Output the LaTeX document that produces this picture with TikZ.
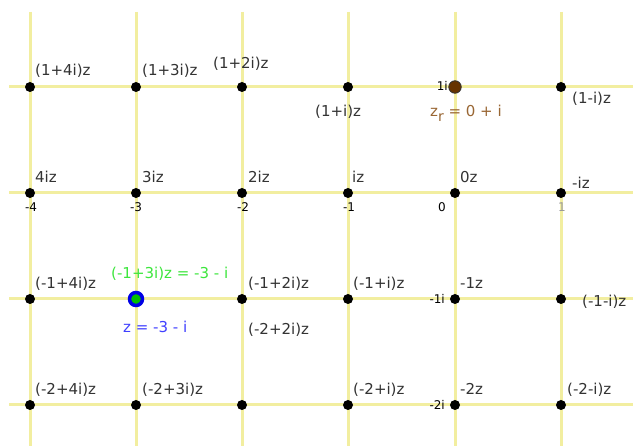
\documentclass[tikz,border=0pt]{standalone}
\usepackage{fontspec}
\setmainfont{DejaVu Sans}
\definecolor{gridyellow}{RGB}{242, 238, 160}
\definecolor{labelgray}{RGB}{51, 51, 51}
\definecolor{zrbrown}{RGB}{153, 102, 51}
\definecolor{zrfill}{RGB}{102, 51, 0}
\definecolor{zblue}{RGB}{64, 64, 255}
\definecolor{zgreen}{RGB}{60, 230, 60}
\usepackage{tikz}
\usetikzlibrary{positioning}

\tikzset{
  gridline/.style={gridyellow, line width=3pt},
  dot/.style={circle, fill=black, inner sep=0pt, minimum size=10pt},
  lbl/.style={anchor=base west, inner sep=0pt, text=labelgray, font=\fontsize{15}{15}\selectfont},
  ticklbl/.style={anchor=base, inner sep=0pt, font=\fontsize{12}{12}\selectfont},
}

\begin{document}
\begin{tikzpicture}[x=1pt, y=-1pt]
  \useasboundingbox[fill=white] (0,0) rectangle (633,446);

  % grid
  \foreach \x in {30,136,242,348,455,561}
    \draw[gridline] (\x,12) -- (\x,446);
  \foreach \y in {87,193,299,405}
    \draw[gridline] (9,\y) -- (633,\y);

  % axis ticks
  \node[ticklbl] (tm4) at (31,212) {-4};
  \node[ticklbl] (tm3) at (136,212) {-3};
  \node[ticklbl] (tm2) at (243,212) {-2};
  \node[ticklbl] (tm1) at (349,212) {-1};
  \node[ticklbl] (t0) at (442,212) {0};
  \node[ticklbl, text=black!40] (t1) at (562,212) {1};
  \node[ticklbl, anchor=base east] (ti1) at (448,91) {1i};
  \node[ticklbl, anchor=base east] (tim1) at (445,304) {-1i};
  \node[ticklbl, anchor=base east] (tim2) at (445,410) {-2i};

  % lattice points
  \foreach \x [count=\i] in {30,136,242,348,455,561}
    \foreach \y [count=\j] in {87,193,299,405}
      \node[dot] (p\i\j) at (\x,\y) {};

  % z and z_r
  \node[circle, draw=blue!90!black, line width=3.5pt, fill=green!75!black, inner sep=0pt, minimum size=13pt] (z) at (136,299) {};
  \node[circle, draw=black!80, line width=0.8pt, fill=zrfill, inner sep=0pt, minimum size=12.5pt] (zr) at (455,87) {};

  % labels, first row
  \node[lbl] (l14) at (35,76) {(1+4i)z};
  \node[lbl] (l13) at (142,76) {(1+3i)z};
  \node[lbl] (l12) at (213,69) {(1+2i)z};
  \node[lbl] (l11) at (315,117) {(1+i)z};
  \node[lbl, text=zrbrown] (lzr) at (430,117) {z\raisebox{-5pt}{\fontsize{14}{14}\selectfont r} = 0 + i};
  \node[lbl] (l1m1) at (572,104) {(1-i)z};

  % second row
  \node[lbl] (l04) at (35,183) {4iz};
  \node[lbl] (l03) at (142,183) {3iz};
  \node[lbl] (l02) at (248,183) {2iz};
  \node[lbl] (l01) at (352,183) {iz};
  \node[lbl] (l00) at (460,183) {0z};
  \node[lbl] (l0m1) at (572,189) {-iz};

  % third row
  \node[lbl] (lm14) at (35,289) {(-1+4i)z};
  \node[lbl, text=zgreen] (lm13) at (111,279) {(-1+3i)z = -3 - i};
  \node[lbl, text=zblue] (lz) at (123,333) {z = -3 - i};
  \node[lbl] (lm12) at (248,289) {(-1+2i)z};
  \node[lbl] (lm11) at (353,289) {(-1+i)z};
  \node[lbl] (lm10) at (460,289) {-1z};
  \node[lbl] (lm1m1) at (582,307) {(-1-i)z};
  \node[lbl] (lm22) at (248,335) {(-2+2i)z};

  % fourth row
  \node[lbl] (lm24) at (35,395) {(-2+4i)z};
  \node[lbl] (lm23) at (142,395) {(-2+3i)z};
  \node[lbl] (lm21) at (353,395) {(-2+i)z};
  \node[lbl] (lm20) at (460,395) {-2z};
  \node[lbl] (lm2m1) at (567,395) {(-2-i)z};
\end{tikzpicture}
\end{document}
